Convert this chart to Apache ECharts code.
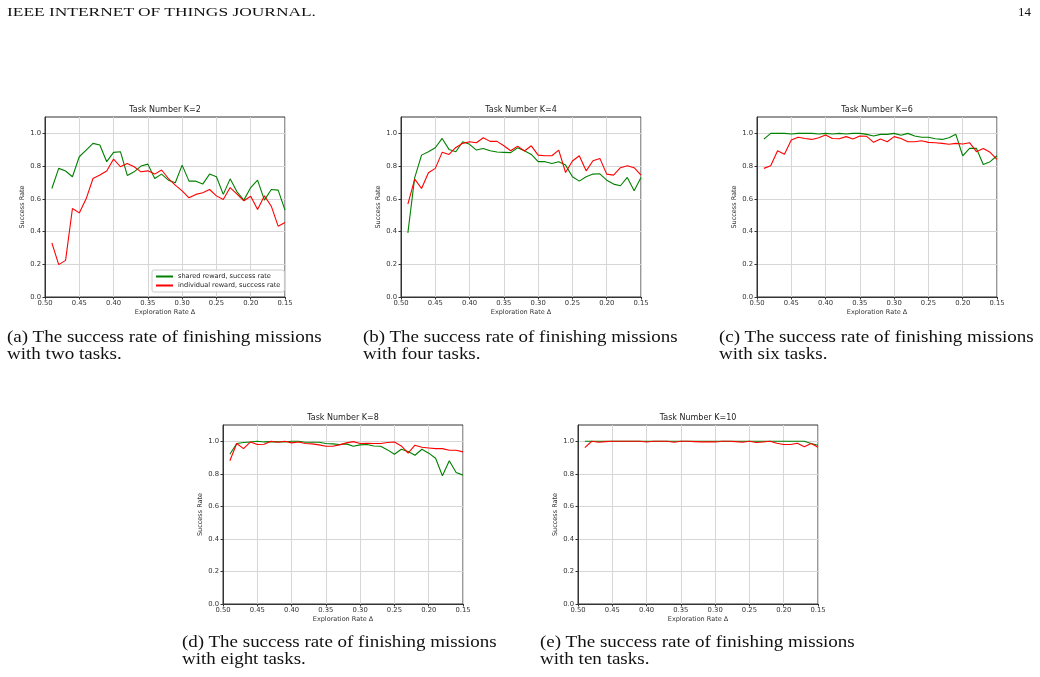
<!DOCTYPE html>
<html>
<head>
<meta charset="utf-8">
<script src="https://cdn.jsdelivr.net/npm/echarts@6/dist/echarts.min.js"></script>
<style>
  body { margin: 0; background: #fff; }
  #page { position: relative; width: 1040px; height: 677px; overflow: hidden; }
  #chart { position: absolute; left: 0; top: 0; width: 1040px; height: 677px; }
  .serif { position: absolute; font-family: "Liberation Serif", serif; color: #111; white-space: nowrap; transform-origin: 0 0; }
  .head { font-size: 13px; line-height: 13px; top: 5px; }
  .cap { font-size: 16.5px; line-height: 16.7px; }
</style>
</head>
<body>
<div id="page">
  <div id="chart"></div>
  <div class="serif head" id="journal" style="left:7px">IEEE INTERNET OF THINGS JOURNAL.</div>
  <div class="serif head" style="left:1018px">14</div>
  <div class="serif cap" style="left:7px;top:329px"><span class="l1">(a) The success rate of finishing missions</span><br>with two tasks.</div>
  <div class="serif cap" style="left:363px;top:329px"><span class="l1">(b) The success rate of finishing missions</span><br>with four tasks.</div>
  <div class="serif cap" style="left:719px;top:329px"><span class="l1">(c) The success rate of finishing missions</span><br>with six tasks.</div>
  <div class="serif cap" style="left:182px;top:634px"><span class="l1">(d) The success rate of finishing missions</span><br>with eight tasks.</div>
  <div class="serif cap" style="left:540px;top:634px"><span class="l1">(e) The success rate of finishing missions</span><br>with ten tasks.</div>
</div>
<script>
// exploration rate values (x), plotted on a reversed axis
const explorationRate = [0.49, 0.48, 0.47, 0.46, 0.45, 0.44, 0.43, 0.42, 0.41, 0.40,
  0.39, 0.38, 0.37, 0.36, 0.35, 0.34, 0.33, 0.32, 0.31, 0.30,
  0.29, 0.28, 0.27, 0.26, 0.25, 0.24, 0.23, 0.22, 0.21, 0.20,
  0.19, 0.18, 0.17, 0.16, 0.15];

const xTicks = [0.50, 0.45, 0.40, 0.35, 0.30, 0.25, 0.20, 0.15];
const yTicks = [0.0, 0.2, 0.4, 0.6, 0.8, 1.0];
const taskTitles = ["Task Number K=2", "Task Number K=4", "Task Number K=6", "Task Number K=8", "Task Number K=10"];
const seriesNames = ["shared reward, success rate", "individual reward, success rate"];

const sharedK2 = [0.663, 0.786, 0.77, 0.735, 0.857, 0.898, 0.939, 0.929, 0.827, 0.884,
  0.888, 0.743, 0.765, 0.80, 0.812, 0.724, 0.751, 0.714, 0.698, 0.806,
  0.708, 0.708, 0.69, 0.751, 0.735, 0.627, 0.722, 0.643, 0.592, 0.669,
  0.714, 0.592, 0.657, 0.653, 0.531];
const individualK2 = [0.331, 0.198, 0.224, 0.541, 0.514, 0.60, 0.724, 0.745, 0.77, 0.843,
  0.796, 0.816, 0.796, 0.765, 0.771, 0.751, 0.776, 0.724, 0.684, 0.649,
  0.606, 0.627, 0.637, 0.657, 0.618, 0.596, 0.669, 0.629, 0.588, 0.616,
  0.535, 0.618, 0.555, 0.433, 0.455];

const sharedK4 = [0.392, 0.73, 0.867, 0.888, 0.912, 0.969, 0.902, 0.888, 0.949, 0.933,
  0.898, 0.908, 0.894, 0.886, 0.884, 0.882, 0.912, 0.894, 0.871, 0.827,
  0.827, 0.816, 0.827, 0.806, 0.735, 0.708, 0.735, 0.751, 0.753, 0.714,
  0.69, 0.68, 0.731, 0.649, 0.731];
const individualK4 = [0.567, 0.72, 0.663, 0.759, 0.786, 0.884, 0.871, 0.914, 0.939, 0.949,
  0.943, 0.973, 0.951, 0.951, 0.924, 0.894, 0.922, 0.892, 0.924, 0.867,
  0.863, 0.863, 0.898, 0.761, 0.831, 0.863, 0.771, 0.833, 0.847, 0.751,
  0.745, 0.79, 0.802, 0.79, 0.745];

const sharedK6 = [0.965, 1.0, 1.0, 1.0, 0.996, 1.0, 1.0, 1.0, 0.996, 1.0,
  0.996, 1.0, 0.996, 1.0, 1.0, 0.994, 0.984, 0.994, 0.994, 1.0,
  0.988, 1.0, 0.984, 0.976, 0.976, 0.967, 0.963, 0.973, 0.994, 0.863,
  0.908, 0.908, 0.81, 0.827, 0.863];
const individualK6 = [0.786, 0.802, 0.894, 0.873, 0.959, 0.976, 0.969, 0.963, 0.973, 0.99,
  0.969, 0.967, 0.98, 0.965, 0.984, 0.982, 0.945, 0.965, 0.949, 0.98,
  0.969, 0.949, 0.949, 0.955, 0.945, 0.943, 0.939, 0.933, 0.939, 0.935,
  0.943, 0.888, 0.908, 0.884, 0.841];

const sharedK8 = [0.92, 0.986, 0.992, 0.996, 1.0, 0.996, 0.998, 0.996, 0.996, 1.0,
  1.0, 0.994, 0.994, 0.994, 0.986, 0.984, 0.98, 0.984, 0.969, 0.978,
  0.98, 0.971, 0.969, 0.947, 0.92, 0.951, 0.937, 0.914, 0.951, 0.927,
  0.896, 0.788, 0.88, 0.808, 0.792];
const individualK8 = [0.88, 0.986, 0.955, 0.996, 0.98, 0.982, 1.0, 0.994, 1.0, 0.99,
  0.996, 0.986, 0.984, 0.978, 0.969, 0.969, 0.978, 0.99, 0.998, 0.986,
  0.988, 0.986, 0.986, 0.992, 0.996, 0.971, 0.927, 0.976, 0.963, 0.959,
  0.955, 0.955, 0.945, 0.945, 0.935];

const sharedK10 = [1.0, 1.0, 1.0, 1.0, 1.0, 1.0, 1.0, 1.0, 1.0, 1.0,
  1.0, 1.0, 1.0, 1.0, 1.0, 1.0, 1.0, 1.0, 1.0, 1.0,
  1.0, 1.0, 1.0, 1.0, 1.0, 1.0, 1.0, 1.0, 1.0, 1.0,
  1.0, 1.0, 1.0, 0.986, 0.976];
const individualK10 = [0.961, 1.0, 0.994, 0.998, 1.0, 1.0, 1.0, 1.0, 1.0, 0.996,
  1.0, 1.0, 1.0, 0.994, 1.0, 1.0, 0.998, 0.996, 0.996, 0.996,
  1.0, 1.0, 0.998, 0.994, 1.0, 0.992, 0.996, 1.0, 0.988, 0.98,
  0.98, 0.988, 0.967, 0.986, 0.963];

const shared = [sharedK2, sharedK4, sharedK6, sharedK8, sharedK10];
const individual = [individualK2, individualK4, individualK6, individualK8, individualK10];

// plot boxes (left, top, width, height) in page pixels
const boxes = [
  [45, 117, 240, 180],
  [401, 117, 240, 180],
  [757, 117, 240, 180],
  [223, 425, 240, 179],
  [578, 425, 240, 179]
];

const font = "DejaVu Sans";
const ink = "#333";

function pairs(ys) {
  return ys.map((y, i) => [explorationRate[i], y]);
}

let grids = [], xAxes = [], yAxes = [], series = [], graphics = [];
boxes.forEach((b, i) => {
  grids.push({ left: b[0], top: b[1], width: b[2], height: b[3], show: true, borderColor: ink, borderWidth: 1 });
  xAxes.push({
    type: "value", gridIndex: i, inverse: true,
    min: xTicks[xTicks.length - 1], max: xTicks[0], interval: 0.05,
    name: "Exploration Rate Δ", nameLocation: "middle", nameGap: 12,
    nameTextStyle: { fontFamily: font, fontSize: 6.5, color: ink },
    axisLine: { lineStyle: { color: ink, width: 1 } },
    axisTick: { length: 2.5, lineStyle: { color: ink } },
    axisLabel: { fontFamily: font, fontSize: 6.8, color: ink, margin: 3, formatter: v => v.toFixed(2) },
    splitLine: { show: true, lineStyle: { color: "#d6d6d6", width: 1 } }
  });
  yAxes.push({
    type: "value", gridIndex: i, min: 0, max: 1.1, interval: 0.2,
    name: "Success Rate", nameLocation: "middle", nameGap: 19,
    nameTextStyle: { fontFamily: font, fontSize: 6.5, color: ink },
    axisLine: { show: true, lineStyle: { color: ink, width: 1 } },
    axisTick: { show: true, length: 2.5, lineStyle: { color: ink }, customValues: yTicks },
    axisLabel: { fontFamily: font, fontSize: 6.8, color: ink, margin: 4,
      customValues: yTicks, formatter: v => v.toFixed(1) },
    splitLine: { show: true, lineStyle: { color: "#d6d6d6", width: 1 } }
  });
  series.push({
    name: seriesNames[0], type: "line", xAxisIndex: i, yAxisIndex: i,
    data: pairs(shared[i]), symbol: "none",
    lineStyle: { color: "#008000", width: 1.1 }, itemStyle: { color: "#008000" }
  });
  series.push({
    name: seriesNames[1], type: "line", xAxisIndex: i, yAxisIndex: i,
    data: pairs(individual[i]), symbol: "none",
    lineStyle: { color: "#ff0000", width: 1.1 }, itemStyle: { color: "#ff0000" }
  });
  graphics.push({
    type: "text", x: b[0] + b[2] / 2, y: b[1] - 7,
    style: { text: taskTitles[i], fontFamily: font, fontSize: 8, fill: "#222", align: "center", verticalAlign: "middle" }
  });
});

const chart = echarts.init(document.getElementById("chart"), null, { renderer: "canvas" });
chart.setOption({
  animation: false,
  grid: grids,
  xAxis: xAxes,
  yAxis: yAxes,
  series: series,
  graphic: graphics,
  legend: {
    data: seriesNames, orient: "vertical", left: 152, top: 270,
    itemWidth: 17, itemHeight: 2, itemGap: 2, padding: [3, 4, 3, 3],
    itemStyle: { opacity: 0 },
    borderColor: "#cccccc", borderWidth: 1, borderRadius: 2, backgroundColor: "rgba(255,255,255,0.85)",
    textStyle: { fontFamily: font, fontSize: 6.6, color: "#222" }
  }
});

// stretch the serif texts to the widths they have in the reference
const head = document.getElementById("journal");
head.style.transform = "scaleX(" + (309 / head.offsetWidth) + ")";
document.querySelectorAll(".cap").forEach(el => {
  const w = el.querySelector(".l1").offsetWidth;
  el.style.transform = "scaleX(" + (315 / w) + ")";
});
</script>
</body>
</html>
